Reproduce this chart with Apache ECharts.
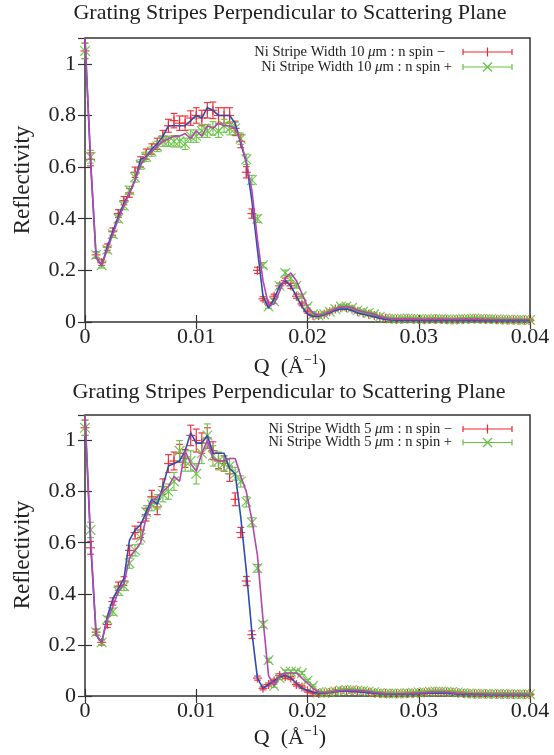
<!DOCTYPE html>
<html><head><meta charset="utf-8">
<script src="https://cdn.jsdelivr.net/npm/echarts@6/dist/echarts.min.js"></script>
<style>html,body{margin:0;padding:0;background:#fff;} #c{width:554px;height:755px;}</style>
</head><body><div id="c"></div>
<script>
// Q grid (1/Angstrom)
const q = [0,0.0005,0.001,0.0015,0.002,0.0025,0.003,0.0035,0.004,0.0045,
0.005,0.0055,0.006,0.0065,0.007,0.0075,0.008,0.0085,0.009,0.0095,
0.01,0.0105,0.011,0.0115,0.012,0.0125,0.013,0.0135,0.014,0.0145,
0.015,0.0155,0.016,0.0165,0.017,0.0175,0.018,0.0185,0.019,0.0195,
0.02,0.0205,0.021,0.0215,0.022,0.0225,0.023,0.0235,0.024,0.0245,
0.025,0.0255,0.026,0.0265,0.027,0.0275,0.028,0.0285,0.029,0.0295,
0.03,0.0305,0.031,0.0315,0.032,0.0325,0.033,0.0335,0.034,0.0345,
0.035,0.0355,0.036,0.0365,0.037,0.0375,0.038,0.0385,0.039,0.0395,0.04];

const xTicks = [0, 0.01, 0.02, 0.03, 0.04];
const yTicks = [0, 0.2, 0.4, 0.6, 0.8, 1];

// ---- Top panel: Ni stripe width 10 um ----
const top_spinMinus = [1.05,0.63,0.26,0.23,0.29,0.35,0.42,0.47,0.50,0.58,
0.62,0.65,0.67,0.69,0.72,0.76,0.78,0.77,0.77,0.79,
0.80,0.79,0.82,0.82,0.80,0.80,0.80,0.75,0.70,0.58,
0.42,0.20,0.09,0.07,0.10,0.14,0.16,0.14,0.10,0.07,
0.04,0.025,0.025,0.03,0.04,0.05,0.055,0.055,0.05,0.04,
0.035,0.03,0.025,0.02,0.015,0.012,0.010,0.011,0.012,0.011,
0.010,0.009,0.010,0.011,0.010,0.009,0.008,0.009,0.010,0.011,
0.012,0.011,0.010,0.010,0.009,0.008,0.008,0.008,0.007,0.007,0.007];
const top_spinMinusErr = [0.03,0.025,0.012,0.011,0.012,0.014,0.015,0.016,0.017,0.02,
0.02,0.02,0.02,0.022,0.022,0.025,0.028,0.028,0.028,0.028,
0.03,0.03,0.03,0.032,0.03,0.03,0.03,0.028,0.025,0.022,
0.018,0.012,0.008,0.007,0.008,0.01,0.01,0.01,0.008,0.007,
0.006,0.005,0.005,0.005,0.006,0.006,0.006,0.006,0.006,0.005,
0.005,0.005,0.005,0.004,0.004,0.004,0.004,0.004,0.004,0.004,
0.004,0.004,0.004,0.004,0.004,0.004,0.004,0.004,0.004,0.004,
0.004,0.004,0.004,0.004,0.004,0.004,0.004,0.004,0.004,0.004,0.004];
const top_spinPlus = [1.05,0.64,0.26,0.22,0.28,0.34,0.40,0.45,0.51,0.56,
0.61,0.64,0.66,0.68,0.70,0.70,0.70,0.70,0.69,0.72,
0.72,0.74,0.74,0.75,0.74,0.76,0.75,0.75,0.71,0.63,
0.55,0.40,0.22,0.06,0.08,0.14,0.19,0.17,0.14,0.10,
0.06,0.03,0.025,0.03,0.04,0.05,0.06,0.06,0.055,0.045,
0.04,0.035,0.03,0.02,0.015,0.013,0.012,0.013,0.014,0.013,
0.012,0.011,0.012,0.013,0.012,0.011,0.010,0.011,0.012,0.013,
0.014,0.013,0.012,0.012,0.011,0.010,0.010,0.009,0.009,0.008,0.008];
const top_spinPlusErr = [0.03,0.025,0.012,0.011,0.012,0.013,0.014,0.015,0.016,0.018,
0.018,0.018,0.018,0.02,0.02,0.02,0.022,0.022,0.022,0.024,
0.024,0.025,0.025,0.026,0.025,0.025,0.025,0.024,0.022,0.02,
0.018,0.014,0.01,0.007,0.008,0.01,0.011,0.01,0.009,0.008,
0.006,0.005,0.005,0.005,0.006,0.006,0.006,0.006,0.006,0.005,
0.005,0.005,0.005,0.004,0.004,0.004,0.004,0.004,0.004,0.004,
0.004,0.004,0.004,0.004,0.004,0.004,0.004,0.004,0.004,0.004,
0.004,0.004,0.004,0.004,0.004,0.004,0.004,0.004,0.004,0.004,0.004];
const top_fitMinus = [1.10,0.62,0.25,0.22,0.29,0.35,0.41,0.46,0.50,0.55,
0.63,0.64,0.67,0.69,0.72,0.76,0.76,0.76,0.76,0.78,
0.80,0.79,0.83,0.82,0.80,0.80,0.80,0.77,0.69,0.62,
0.47,0.28,0.10,0.055,0.09,0.14,0.16,0.14,0.10,0.06,
0.03,0.022,0.022,0.028,0.036,0.045,0.05,0.05,0.045,0.035,
0.03,0.025,0.02,0.015,0.01,0.008,0.007,0.007,0.007,0.007,
0.006,0.006,0.006,0.006,0.006,0.006,0.006,0.006,0.006,0.006,
0.006,0.006,0.005,0.005,0.005,0.005,0.005,0.005,0.005,0.005,0.005];
const top_fitPlus = [1.10,0.63,0.25,0.22,0.28,0.34,0.40,0.45,0.50,0.55,
0.61,0.64,0.66,0.68,0.70,0.71,0.72,0.72,0.73,0.71,
0.74,0.72,0.76,0.75,0.77,0.76,0.76,0.75,0.70,0.62,
0.51,0.32,0.16,0.065,0.07,0.12,0.17,0.19,0.16,0.11,
0.06,0.035,0.025,0.03,0.04,0.05,0.058,0.06,0.055,0.045,
0.04,0.035,0.03,0.02,0.015,0.012,0.011,0.011,0.011,0.011,
0.010,0.010,0.010,0.010,0.010,0.010,0.010,0.010,0.010,0.010,
0.010,0.010,0.009,0.009,0.009,0.009,0.009,0.009,0.009,0.009,0.009];

// ---- Bottom panel: Ni stripe width 5 um ----
const bot_spinMinus = [1.05,0.58,0.25,0.21,0.28,0.37,0.43,0.45,0.57,0.64,
0.65,0.71,0.78,0.74,0.82,0.91,0.92,0.95,0.93,1.02,
1.00,0.99,1.01,0.96,0.92,0.91,0.87,0.77,0.64,0.45,
0.24,0.07,0.03,0.045,0.06,0.08,0.075,0.07,0.045,0.035,
0.02,0.012,0.01,0.012,0.015,0.02,0.022,0.022,0.02,0.02,
0.018,0.015,0.012,0.01,0.01,0.01,0.009,0.009,0.010,0.010,
0.012,0.013,0.015,0.016,0.016,0.015,0.014,0.012,0.010,0.009,
0.008,0.008,0.008,0.007,0.007,0.007,0.007,0.006,0.006,0.006,0.006];
const bot_spinMinusErr = [0.03,0.025,0.012,0.01,0.012,0.014,0.016,0.017,0.02,0.025,
0.03,0.025,0.025,0.03,0.03,0.035,0.035,0.035,0.035,0.04,
0.045,0.04,0.04,0.035,0.03,0.03,0.03,0.025,0.02,0.018,
0.015,0.008,0.006,0.006,0.006,0.007,0.007,0.006,0.006,0.005,
0.005,0.004,0.004,0.004,0.004,0.004,0.004,0.004,0.004,0.004,
0.004,0.004,0.004,0.004,0.004,0.004,0.004,0.004,0.004,0.004,
0.004,0.004,0.004,0.004,0.004,0.004,0.004,0.004,0.004,0.004,
0.004,0.004,0.004,0.004,0.004,0.004,0.004,0.004,0.004,0.004,0.004];
const bot_spinPlus = [1.05,0.65,0.25,0.21,0.30,0.33,0.41,0.43,0.52,0.57,
0.62,0.72,0.75,0.76,0.79,0.80,0.84,0.96,0.92,0.92,
0.87,0.95,1.02,0.94,0.92,0.91,0.90,0.87,0.84,0.76,
0.68,0.50,0.28,0.14,0.04,0.07,0.095,0.095,0.095,0.09,
0.06,0.04,0.015,0.012,0.015,0.018,0.022,0.024,0.024,0.022,
0.02,0.018,0.015,0.012,0.01,0.01,0.01,0.01,0.011,0.012,
0.014,0.015,0.017,0.018,0.018,0.017,0.016,0.014,0.012,0.01,
0.009,0.009,0.009,0.008,0.008,0.008,0.008,0.007,0.007,0.007,0.007];
const bot_spinPlusErr = [0.03,0.03,0.012,0.01,0.012,0.014,0.016,0.017,0.02,0.022,
0.025,0.025,0.025,0.028,0.03,0.03,0.035,0.04,0.04,0.04,
0.04,0.04,0.045,0.04,0.035,0.03,0.03,0.025,0.022,0.02,
0.018,0.015,0.012,0.008,0.006,0.006,0.007,0.007,0.007,0.006,
0.006,0.004,0.004,0.004,0.004,0.004,0.004,0.004,0.004,0.004,
0.004,0.004,0.004,0.004,0.004,0.004,0.004,0.004,0.004,0.004,
0.004,0.004,0.004,0.004,0.004,0.004,0.004,0.004,0.004,0.004,
0.004,0.004,0.004,0.004,0.004,0.004,0.004,0.004,0.004,0.004,0.004];
const bot_fitMinus = [1.10,0.60,0.24,0.21,0.31,0.38,0.42,0.46,0.61,0.65,
0.67,0.72,0.77,0.75,0.82,0.90,0.91,0.92,0.96,1.03,
0.99,0.99,1.02,0.95,0.95,0.95,0.89,0.87,0.70,0.49,
0.25,0.07,0.03,0.045,0.06,0.075,0.08,0.07,0.05,0.03,
0.022,0.015,0.012,0.012,0.014,0.017,0.019,0.019,0.018,0.017,
0.015,0.013,0.011,0.009,0.008,0.007,0.007,0.007,0.008,0.008,
0.009,0.010,0.011,0.011,0.011,0.010,0.009,0.008,0.007,0.006,
0.006,0.006,0.005,0.005,0.005,0.005,0.005,0.005,0.005,0.005,0.005];
const bot_fitPlus = [1.10,0.62,0.24,0.21,0.30,0.35,0.41,0.44,0.54,0.57,
0.60,0.70,0.76,0.78,0.80,0.82,0.86,0.84,0.96,0.91,
0.88,0.95,1.00,0.93,0.92,0.92,0.93,0.93,0.86,0.80,
0.69,0.55,0.30,0.08,0.04,0.08,0.09,0.09,0.09,0.07,
0.05,0.03,0.015,0.013,0.015,0.018,0.021,0.022,0.022,0.021,
0.019,0.017,0.014,0.012,0.01,0.009,0.009,0.009,0.01,0.011,
0.012,0.013,0.014,0.015,0.015,0.014,0.013,0.011,0.01,0.009,
0.008,0.008,0.008,0.007,0.007,0.007,0.007,0.007,0.007,0.007,0.007];

const titleText = 'Grating Stripes Perpendicular to Scattering Plane';
const legendTop = ['Ni Stripe Width 10 ', 'Ni Stripe Width 10 '];
const legendBot = ['Ni Stripe Width 5 ', 'Ni Stripe Width 5 '];
const spinLabels = ['m : n spin \u2212', 'm : n spin +'];

const FONT = "'Liberation Serif','Times New Roman',serif";
const RED = '#f0262f', GREEN = '#66c144', BLUE = '#2f4db0', MAG = '#b347ad', AX = '#333';

const chart = echarts.init(document.getElementById('c'), null, {renderer: 'canvas'});

function errSeries(xi, yi, vals, errs, kind, color, z) {
  return {
    type: 'custom', xAxisIndex: xi, yAxisIndex: yi, z: z, silent: true,
    data: q.map((x, i) => [x, vals[i], errs[i]]),
    renderItem: function (params, api) {
      const x = api.value(0), v = api.value(1), e = api.value(2);
      const c = api.coord([x, v]);
      const lo = api.coord([x, v - e]);
      const hi = api.coord([x, v + e]);
      const w = 3.4, m = kind === '+' ? 4.5 : 4.8;
      const st = {stroke: color, lineWidth: 1.2, opacity: 0.9};
      const ch = [
        {type: 'line', shape: {x1: c[0], y1: lo[1], x2: c[0], y2: hi[1]}, style: st},
        {type: 'line', shape: {x1: c[0] - w, y1: lo[1], x2: c[0] + w, y2: lo[1]}, style: st},
        {type: 'line', shape: {x1: c[0] - w, y1: hi[1], x2: c[0] + w, y2: hi[1]}, style: st}
      ];
      if (kind === '+') {
        ch.push({type: 'line', shape: {x1: c[0] - m, y1: c[1], x2: c[0] + m, y2: c[1]}, style: st});
        ch.push({type: 'line', shape: {x1: c[0], y1: c[1] - m, x2: c[0], y2: c[1] + m}, style: st});
      } else {
        ch.push({type: 'line', shape: {x1: c[0] - m, y1: c[1] - m, x2: c[0] + m, y2: c[1] + m}, style: st});
        ch.push({type: 'line', shape: {x1: c[0] - m, y1: c[1] + m, x2: c[0] + m, y2: c[1] - m}, style: st});
      }
      return {type: 'group', children: ch};
    }
  };
}
function lineSeries(xi, yi, vals, color, z) {
  return {
    type: 'line', xAxisIndex: xi, yAxisIndex: yi, z: z, silent: true,
    showSymbol: false, symbol: 'none', clip: true, animation: false,
    data: q.map((x, i) => [x, vals[i]]),
    lineStyle: {color: color, width: 1.6}
  };
}
function xAx(g, pos) {
  return {
    gridIndex: g, type: 'value', min: 0, max: 0.04, interval: 0.01, position: pos,
    axisLine: {show: false},
    axisTick: {show: true, inside: true, length: 7, lineStyle: {color: AX, width: 1.2}},
    axisLabel: {show: pos === 'bottom', fontFamily: FONT, fontSize: 22, color: '#222', margin: 4,
      formatter: v => (xTicks.indexOf(+v.toFixed(4)) >= 0 ? String(+v.toFixed(4)) : '')},
    splitLine: {show: false}
  };
}
function yAx(g, pos) {
  return {
    gridIndex: g, type: 'value', min: 0, max: 1.1, interval: 0.2, position: pos,
    axisLine: {show: false},
    axisTick: {show: true, inside: true, length: 7, lineStyle: {color: AX, width: 1.2}},
    axisLabel: {show: pos === 'left', showMaxLabel: false, fontFamily: FONT, fontSize: 22, color: '#222', margin: 9,
      formatter: v => (yTicks.indexOf(+v.toFixed(4)) >= 0 ? String(+v.toFixed(4)) : '')},
    splitLine: {show: false}
  };
}

function legendRow(xRight, y, label, spin, kind, color) {
  const els = [];
  els.push({type: 'text', x: xRight, y: y, silent: true,
    style: {text: '{t|' + label + '}{m|\u03bc}{t|' + spin + '}', align: 'right', verticalAlign: 'middle',
      rich: {t: {fontFamily: FONT, fontSize: 14.5, fill: '#222'}, m: {fontFamily: FONT, fontSize: 15, fontStyle: 'italic', fill: '#222'}}}});
  const x1 = 463, x2 = 512, xc = 487.5, w = 3, m = 4.5;
  const st = {stroke: color, lineWidth: 1.2};
  els.push({type: 'line', silent: true, shape: {x1: x1, y1: y, x2: x2, y2: y}, style: st});
  els.push({type: 'line', silent: true, shape: {x1: x1, y1: y - w, x2: x1, y2: y + w}, style: st});
  els.push({type: 'line', silent: true, shape: {x1: x2, y1: y - w, x2: x2, y2: y + w}, style: st});
  if (kind === '+') {
    els.push({type: 'line', silent: true, shape: {x1: xc, y1: y - m, x2: xc, y2: y + m}, style: st});
  } else {
    els.push({type: 'line', silent: true, shape: {x1: xc - m, y1: y - m, x2: xc + m, y2: y + m}, style: st});
    els.push({type: 'line', silent: true, shape: {x1: xc - m, y1: y + m, x2: xc + m, y2: y - m}, style: st});
  }
  return els;
}
function qLabel(y) {
  return {type: 'text', x: 290, y: y, silent: true,
    style: {text: '{a|Q  (\u00c5}{s|\u22121}{a|)}', align: 'center', verticalAlign: 'middle',
      rich: {a: {fontFamily: FONT, fontSize: 22, fill: '#222'},
             s: {fontFamily: FONT, fontSize: 14, fill: '#222', padding: [0, 0, 14, 0]}}}};
}
function textEl(x, y, txt, size, rot) {
  return {type: 'text', x: x, y: y, rotation: rot || 0, silent: true,
    style: {text: txt, align: 'center', verticalAlign: 'middle', fontFamily: FONT, fontSize: size, fill: '#222'}};
}

const graphics = [
  textEl(290, 13, titleText, 22),
  textEl(289, 392, titleText, 22),
  textEl(23, 180, 'Reflectivity', 23, Math.PI / 2),
  textEl(23, 555, 'Reflectivity', 23, Math.PI / 2),
  qLabel(367),
  qLabel(738)
].concat(
  legendRow(445, 52, legendTop[0], spinLabels[0], '+', RED),
  legendRow(452, 67, legendTop[1], spinLabels[1], 'x', GREEN),
  legendRow(452, 429, legendBot[0], spinLabels[0], '+', RED),
  legendRow(452, 442.5, legendBot[1], spinLabels[1], 'x', GREEN)
);

chart.setOption({
  animation: false,
  backgroundColor: '#fff',
  grid: [
    {left: 85, top: 38, width: 445, height: 284, show: true, borderColor: AX, borderWidth: 1.5, backgroundColor: 'transparent'},
    {left: 85, top: 415, width: 445, height: 281, show: true, borderColor: AX, borderWidth: 1.5, backgroundColor: 'transparent'}
  ],
  xAxis: [xAx(0, 'bottom'), xAx(0, 'top'), xAx(1, 'bottom'), xAx(1, 'top')],
  yAxis: [yAx(0, 'left'), yAx(0, 'right'), yAx(1, 'left'), yAx(1, 'right')],
  series: [
    errSeries(0, 0, top_spinMinus, top_spinMinusErr, '+', RED, 2),
    errSeries(0, 0, top_spinPlus, top_spinPlusErr, 'x', GREEN, 3),
    lineSeries(0, 0, top_fitMinus, BLUE, 4),
    lineSeries(0, 0, top_fitPlus, MAG, 5),
    errSeries(2, 2, bot_spinMinus, bot_spinMinusErr, '+', RED, 2),
    errSeries(2, 2, bot_spinPlus, bot_spinPlusErr, 'x', GREEN, 3),
    lineSeries(2, 2, bot_fitMinus, BLUE, 4),
    lineSeries(2, 2, bot_fitPlus, MAG, 5)
  ],
  graphic: graphics
});
</script>
</body></html>
